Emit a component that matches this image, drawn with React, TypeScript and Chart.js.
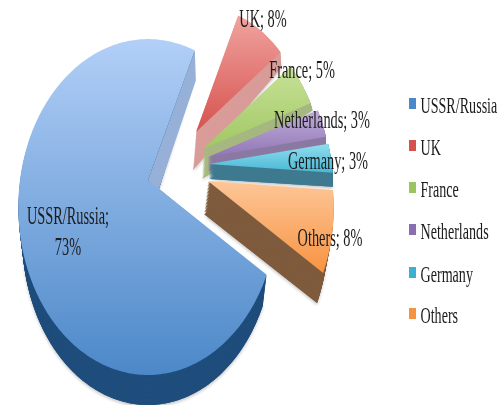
import React, { useEffect, useRef } from "react";
import { Chart, registerables } from "chart.js";

Chart.register(...registerables);

const categories = ["USSR/Russia", "UK", "France", "Netherlands", "Germany", "Others"];
const shares = [73, 8, 5, 3, 3, 8];

const topLight = ["#b2cff7", "#f0a4a0", "#cbe39c", "#c4b4dc", "#95e0f0", "#fdc494"];
const topDeep = ["#4c88c8", "#d6504c", "#9cc45c", "#8a6cb0", "#3cb0d0", "#f79240"];
const wallColor = ["#1f4d7c", "#d99c99", "#a6b880", "#8b7aa3", "#3f7a90", "#7f5b3d"];
const gradRange = [[39, 375], [15, 135], [60, 160], [105, 165], [142, 178], [185, 275]];

// layout of the exploded 3D projection (not data)
const FRAME = { sx: 128, sy: 163.6, persp: 0.161 };
const apexAt = [[148, 180], [196, 132], [203, 149], [208, 157], [209, 164], [208, 181]];
const sliceScale = [1, 0.9, 0.93, 0.95, 0.96, 0.97];
const apexDepth = [[10, 12], [-3, 38], [-1, 30], [0, 14], [0, 15], [-4, 33]];
const rimDepth = [[0, 30], [1, 15], [2, 7], [0, 8], [0, 14], [-6, 30]];
const rimShrink = [0.97, 1, 1, 1, 1, 1];
const labelAt = [[68, 218], [263, 21], [302, 72], [322, 122], [328, 163], [330, 240]];
const legendRowY = [107, 149, 191, 233, 276, 317];

const SERIF = '"Liberation Serif", serif';
const LABEL_SIZE = 24.5;
const LABEL_X = 0.585;
const LEGEND_SIZE = 23.5;
const LEGEND_X = 0.6;

function putText(
  ctx: CanvasRenderingContext2D,
  s: string,
  x: number,
  y: number,
  size: number,
  squeeze: number,
  align: CanvasTextAlign
) {
  ctx.save();
  ctx.translate(x, y);
  ctx.scale(squeeze, 1);
  ctx.font = `${size}px ${SERIF}`;
  ctx.textAlign = align;
  ctx.textBaseline = "middle";
  ctx.fillStyle = "#1c1c1c";
  ctx.fillText(s, 0, 0);
  ctx.restore();
}

const pie3d = {
  id: "pie3d",
  beforeDatasetsDraw(chart: any) {
    const ctx: CanvasRenderingContext2D = chart.ctx;
    const arcs = chart.getDatasetMeta(0).data;
    const rim = (i: number, a: number) => {
      const x = Math.cos(a), y = Math.sin(a), w = 1 - FRAME.persp * y, s = sliceScale[i];
      return [apexAt[i][0] + (s * FRAME.sx * x) / w, apexAt[i][1] + (s * FRAME.sy * y) / w];
    };
    const outline = (i: number, t: number) => {
      const arc = arcs[i];
      const n = Math.max(8, Math.ceil((arc.endAngle - arc.startAngle) * 60));
      const pts = [[apexAt[i][0] + apexDepth[i][0] * t, apexAt[i][1] + apexDepth[i][1] * t]];
      const shrink = 1 - (1 - rimShrink[i]) * t;
      for (let k = 0; k <= n; k++) {
        const p = rim(i, arc.startAngle + ((arc.endAngle - arc.startAngle) * k) / n);
        pts.push([
          apexAt[i][0] + (p[0] - apexAt[i][0]) * shrink + rimDepth[i][0] * t,
          p[1] + rimDepth[i][1] * t,
        ]);
      }
      return pts;
    };
    const fillPts = (pts: number[][]) => {
      ctx.beginPath();
      pts.forEach((p, k) => (k ? ctx.lineTo(p[0], p[1]) : ctx.moveTo(p[0], p[1])));
      ctx.closePath();
      ctx.fill();
    };
    const grad = (i: number) => {
      const g = ctx.createLinearGradient(0, gradRange[i][0], 0, gradRange[i][1]);
      g.addColorStop(0, topLight[i]);
      g.addColorStop(1, topDeep[i]);
      return g;
    };

    ctx.save();
    ctx.filter = "blur(0.6px)";
    const order = [1, 2, 3, 4, 5, 0];
    order.forEach((i) => {
      // soft shadow under the slice
      ctx.save();
      ctx.shadowColor = "rgba(0,0,0,0.22)";
      ctx.shadowBlur = 3;
      ctx.shadowOffsetY = 2;
      ctx.fillStyle = wallColor[i];
      fillPts(outline(i, 1));
      ctx.restore();
      ctx.fillStyle = wallColor[i];
      for (let k = 24; k >= 1; k--) fillPts(outline(i, k / 24));
      if (i === 0) {
        // the inner wall of the big slice catches the light
        const p = rim(0, arcs[0].endAngle);
        ctx.fillStyle = "#97b0d8";
        fillPts([
          [apexAt[0][0], apexAt[0][1]],
          p,
          [p[0] + 1, p[1] + rimDepth[0][1]],
          [apexAt[0][0] + apexDepth[0][0], apexAt[0][1] + apexDepth[0][1]],
        ]);
      }
      ctx.fillStyle = grad(i);
      fillPts(outline(i, 0));
    });

    // slice labels
    ctx.filter = "blur(0.3px)";
    categories.forEach((c, i) => {
      if (i === 0) {
        putText(ctx, `${c};`, labelAt[0][0], labelAt[0][1], LABEL_SIZE, LABEL_X, "center");
        putText(ctx, `${shares[0]}%`, labelAt[0][0], labelAt[0][1] + 31, LABEL_SIZE, LABEL_X, "center");
      } else {
        putText(ctx, `${c}; ${shares[i]}%`, labelAt[i][0], labelAt[i][1], LABEL_SIZE, LABEL_X, "center");
      }
    });

    // legend
    categories.forEach((c, i) => {
      const y = legendRowY[i];
      ctx.fillStyle = topDeep[i];
      ctx.fillRect(409, y - 9, 7, 11);
      putText(ctx, c, 420.5, y, LEGEND_SIZE, LEGEND_X, "left");
    });
    ctx.restore();
    return false;
  },
};

export default function App() {
  const ref = useRef<HTMLCanvasElement>(null);
  useEffect(() => {
    document.body.style.margin = "0";
    const chart = new Chart(ref.current!, {
      type: "pie",
      data: {
        labels: categories,
        datasets: [{ data: shares, backgroundColor: topDeep, borderWidth: 0 }],
      },
      options: {
        animation: false,
        responsive: false,
        rotation: 122,
        plugins: { legend: { display: false }, tooltip: { enabled: false } },
      },
      plugins: [pie3d],
    } as any);
    return () => chart.destroy();
  }, []);
  return (
    <canvas
      ref={ref}
      width={504}
      height={405}
      style={{ position: "absolute", left: 0, top: 0, width: 504, height: 405, background: "#fff" }}
    />
  );
}
